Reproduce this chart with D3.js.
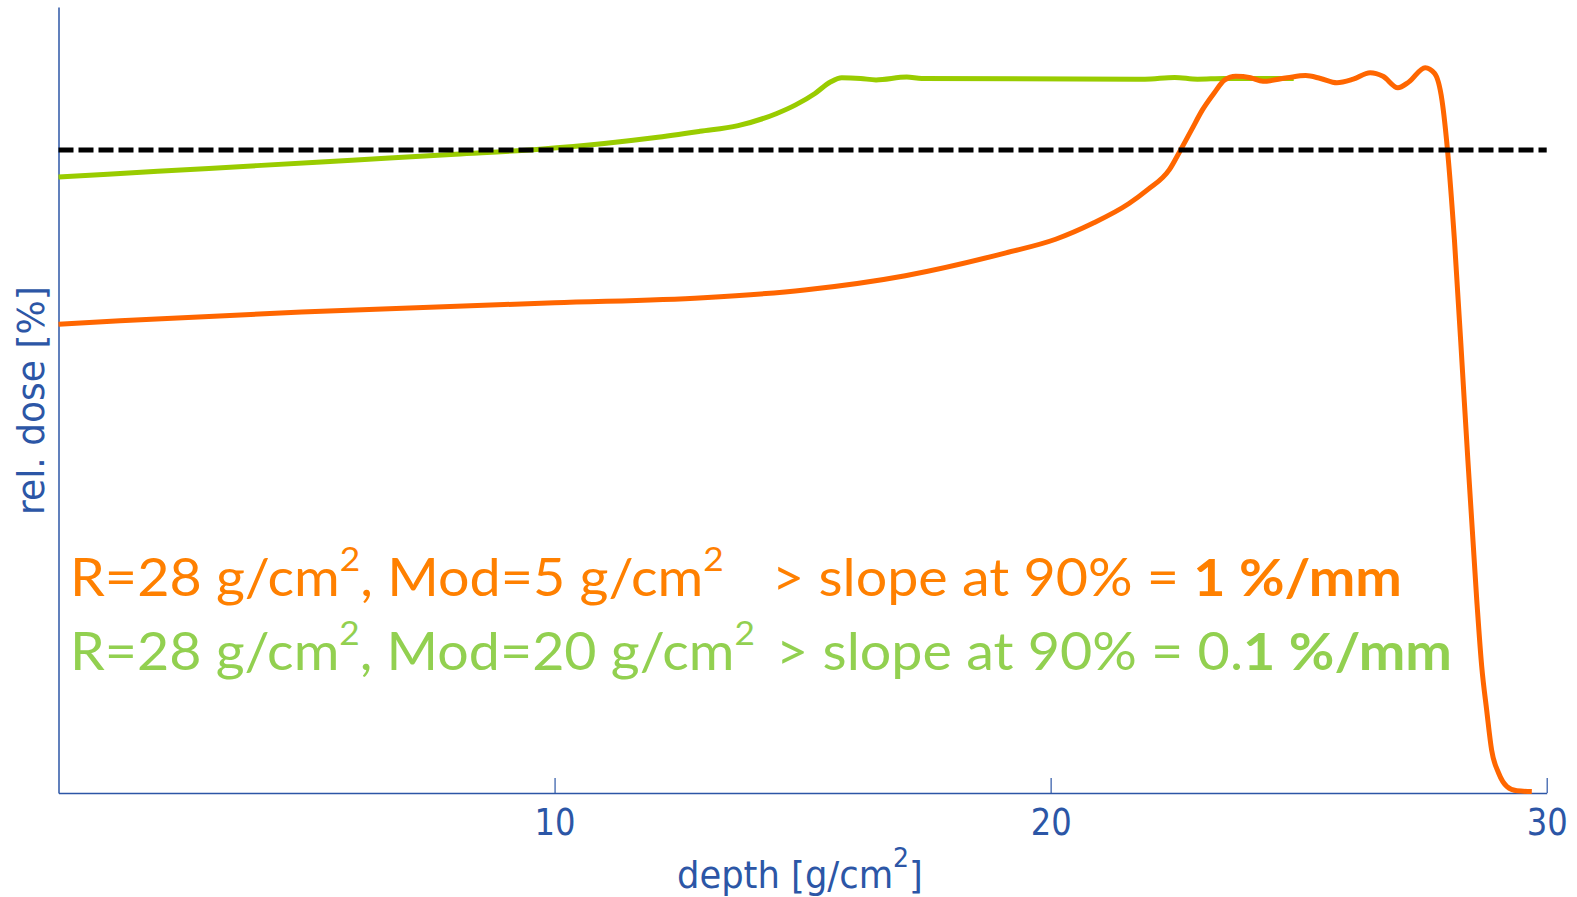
<!DOCTYPE html>
<html><head><meta charset="utf-8">
<script src="https://cdn.jsdelivr.net/npm/d3@7"></script>
<style>body{margin:0;background:#fff}svg{display:block}</style>
</head><body>
<svg id="c" width="1577" height="897"></svg>
<script>
// ---- data ----
const greenDepth = [0, 2, 4, 6, 8, 9.7, 11, 12, 12.93, 13.7, 14.48, 14.86, 15.25, 15.56, 15.79, 16.17, 16.48, 17.1, 17.4, 21.9, 22.5, 22.96, 23.5, 24.3, 24.9];
const greenDose  = [86.2, 87.0, 87.8, 88.6, 89.4, 90.1, 90.9, 91.7, 92.6, 93.4, 95.1, 96.3, 97.9, 99.5, 100.1, 100.0, 99.8, 100.2, 100.0, 99.9, 100.15, 99.9, 100.0, 100.0, 100.0];
const orangeDepth = [0, 1.24, 4.9, 10, 13.0, 15.04, 17.07, 19.1, 20.1, 20.84, 21.58, 21.95, 22.39, 22.62, 22.84, 23.06, 23.29, 23.51, 23.73, 24.03, 24.28, 24.77, 25.14, 25.44, 25.77, 26.1, 26.44, 26.7, 27.0, 27.22, 27.55, 27.74, 27.89, 28.0, 28.14, 28.34, 28.59, 28.69, 28.79, 28.89, 29.03, 29.2, 29.4, 29.7];
const orangeDose  = [65.6, 66.1, 67.3, 68.6, 69.3, 70.4, 72.4, 75.6, 77.5, 79.7, 82.5, 84.4, 87.2, 90.0, 92.8, 95.6, 97.9, 99.8, 100.3, 100.1, 99.6, 100.1, 100.4, 100.0, 99.4, 99.9, 100.8, 100.3, 98.7, 99.5, 101.5, 100.7, 96.9, 90.0, 77.4, 54.7, 27.0, 17.7, 11.6, 6.0, 2.8, 0.9, 0.3, 0.2];
const refLevel = 90;
const xTicks = [10, 20, 30];
const xDomain = [0, 30];
const yDomain = [0, 110];
const xLabel = "depth [g/cm";
const yLabel = "rel. dose [%]";

// ---- styles ----
const BLUE = "#2c56a6", ORANGE_LINE = "#ff6600", GREEN_LINE = "#99cc00";
const ORANGE_TXT = "#ff8000", GREEN_TXT = "#92d050";
const AXFONT = "'DejaVu Sans', Verdana, sans-serif";
const LGFONT = "Lato, 'Open Sans', sans-serif";

const svg = d3.select("#c");
const x = d3.scaleLinear().domain(xDomain).range([58.5, 1546.7]);
const y = d3.scaleLinear().domain(yDomain).range([793, 7]);

function fitH(g, left, width) {
  const bb = g.node().getBBox();
  const k = width / bb.width;
  g.attr("transform", `translate(${left - bb.x * k},0) scale(${k},1)`);
}

// axes
const xa = svg.append("g").attr("transform", `translate(0,${y(0)})`)
  .call(d3.axisBottom(x).tickValues(xTicks).tickSizeInner(-15).tickSizeOuter(0).tickPadding(15).tickFormat(d3.format("d")));
xa.attr("color", BLUE).attr("font-family", AXFONT).attr("font-size", 38);
xa.select(".domain").attr("stroke-width", 1.5);
xa.selectAll(".tick line").attr("stroke-width", 1.2);
xa.selectAll(".tick text").attr("textLength", 41).attr("lengthAdjust", "spacingAndGlyphs");

const ya = svg.append("g").attr("transform", `translate(${x(0)},0)`)
  .call(d3.axisLeft(y).tickValues([]).tickSizeOuter(0));
ya.attr("color", BLUE);
ya.select(".domain").attr("stroke-width", 1.5);

// axis labels
const xl = svg.append("g");
const xlt = xl.append("text").attr("y", 888).attr("font-family", AXFONT).attr("font-size", 38).attr("fill", BLUE);
xlt.append("tspan").text(xLabel);
xlt.append("tspan").attr("dy", -21).attr("font-size", 27).text("2");
xlt.append("tspan").attr("dy", 21).text("]");
fitH(xl, 677, 246);

const ylg = svg.append("g");
const ylt = ylg.append("text").attr("font-family", AXFONT).attr("font-size", 38).attr("fill", BLUE).text(yLabel);
{
  const bb = ylt.node().getBBox();
  const k = 229 / bb.width;
  ylg.attr("transform", `translate(44,${515}) rotate(-90) scale(${k},1) translate(${-bb.x},0)`);
}

// curves
const line = d3.line().x(d => x(d[0])).y(d => y(d[1])).curve(d3.curveMonotoneX);
const green = d3.zip(greenDepth, greenDose);
const orange = d3.zip(orangeDepth, orangeDose);
svg.append("path").datum(green).attr("d", line).attr("fill", "none")
  .attr("stroke", GREEN_LINE).attr("stroke-width", 5).attr("stroke-linejoin", "round");
svg.append("path").datum(orange).attr("d", line).attr("fill", "none")
  .attr("stroke", ORANGE_LINE).attr("stroke-width", 5).attr("stroke-linejoin", "round");
svg.append("line").attr("x1", x(xDomain[0])).attr("x2", x(xDomain[1]))
  .attr("y1", y(refLevel)).attr("y2", y(refLevel))
  .attr("stroke", "#000").attr("stroke-width", 5).attr("stroke-dasharray", "15,5");

// legend text
function part(baseline, color, pieces, left, width) {
  const g = svg.append("g");
  const t = g.append("text").attr("y", baseline).attr("font-family", LGFONT).attr("font-size", 52).attr("fill", color);
  let shift = 0;
  pieces.forEach(p => {
    const s = t.append("tspan").text(p.t);
    if (p.sup) { s.attr("dy", -25 - shift).attr("font-size", 33); shift = -25; }
    else { if (shift) s.attr("dy", 25); shift = 0; }
    if (p.b) s.attr("font-weight", "bold");
  });
  fitH(g, left, width);
}
part(596, ORANGE_TXT, [{t:"R=28 g/cm"},{t:"2",sup:1},{t:", Mod=5 g/cm"},{t:"2",sup:1}], 70, 654);
part(596, ORANGE_TXT, [{t:"> slope at 90% = "},{t:"1 %/mm",b:1}], 772, 630);
part(670, GREEN_TXT, [{t:"R=28 g/cm"},{t:"2",sup:1},{t:", Mod=20 g/cm"},{t:"2",sup:1}], 70, 685);
part(670, GREEN_TXT, [{t:"> slope at 90% = 0."},{t:"1 %/mm",b:1}], 776, 676);
</script>
</body></html>
